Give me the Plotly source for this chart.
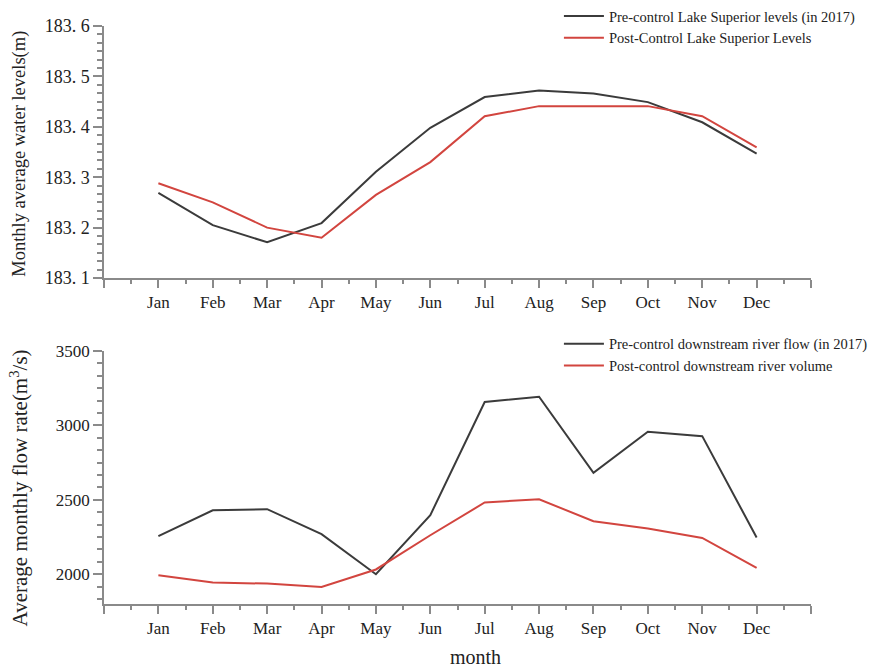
import plotly.graph_objects as go

# Monthly data
months = ["Jan", "Feb", "Mar", "Apr", "May", "Jun", "Jul", "Aug", "Sep", "Oct", "Nov", "Dec"]
month_pos = list(range(1, 13))

# Lake Superior water levels (m)
pre_level = [183.269, 183.205, 183.171, 183.209, 183.311, 183.398, 183.459, 183.472, 183.466, 183.449, 183.409, 183.347]
post_level = [183.288, 183.250, 183.200, 183.180, 183.265, 183.330, 183.421, 183.441, 183.441, 183.441, 183.421, 183.359]

# Downstream river flow (m^3/s)
pre_flow = [2256, 2430, 2437, 2269, 2000, 2397, 3157, 3193, 2681, 2957, 2928, 2247]
post_flow = [1993, 1944, 1937, 1915, 2032, 2262, 2482, 2504, 2356, 2307, 2244, 2042]

# Axis tick values
level_ticks = [183.1, 183.2, 183.3, 183.4, 183.5, 183.6]
flow_ticks = [2000, 2500, 3000, 3500]

BLACK = "#3b3b3b"
RED = "#d2453f"
AXIS = "#8a8a8a"
SERIF = "Liberation Serif, Times New Roman, serif"

fig = go.Figure()

fig.add_trace(go.Scatter(x=month_pos, y=pre_level, mode="lines",
                         name="Pre-control Lake Superior levels (in 2017)",
                         line=dict(color=BLACK, width=2), xaxis="x", yaxis="y", legend="legend"))
fig.add_trace(go.Scatter(x=month_pos, y=post_level, mode="lines",
                         name="Post-Control Lake Superior Levels",
                         line=dict(color=RED, width=2), xaxis="x", yaxis="y", legend="legend"))
fig.add_trace(go.Scatter(x=month_pos, y=pre_flow, mode="lines",
                         name="Pre-control downstream river flow (in 2017)",
                         line=dict(color=BLACK, width=2), xaxis="x2", yaxis="y2", legend="legend2"))
fig.add_trace(go.Scatter(x=month_pos, y=post_flow, mode="lines",
                         name="Post-control downstream river volume",
                         line=dict(color=RED, width=2), xaxis="x2", yaxis="y2", legend="legend2"))

xtickvals = list(range(0, 14))
xticktext = [""] + months + [""]
xminor = dict(tickvals=[i + 0.5 for i in range(13)], ticks="outside", ticklen=4,
              tickcolor=AXIS, tickwidth=1.5)

common_x = dict(range=[0, 13], tickvals=xtickvals, ticktext=xticktext,
                showline=True, linecolor=AXIS, linewidth=1.5,
                ticks="outside", ticklen=8, tickcolor=AXIS, tickwidth=1.5,
                showgrid=False, zeroline=False, minor=xminor,
                tickfont=dict(family=SERIF, size=17, color="#222"))

# Legends are placed in container coordinates so they never push the plot margins
legend_style = dict(xref="container", yref="container", xanchor="left", yanchor="top",
                    bgcolor="rgba(0,0,0,0)", borderwidth=0, tracegroupgap=0, itemwidth=40,
                    font=dict(family=SERIF, size=14.5, color="#222"))

fig.update_layout(
    width=890, height=669,
    margin=dict(l=104, r=79, t=26, b=65, autoexpand=False),
    paper_bgcolor="white", plot_bgcolor="white",
    font=dict(family=SERIF, color="#222"),
    xaxis=dict(domain=[0, 1], anchor="y", **common_x),
    xaxis2=dict(domain=[0, 1], anchor="y2", **common_x),
    yaxis=dict(domain=[0.564, 1], anchor="x", range=[183.1, 183.6],
               tickvals=level_ticks,
               ticktext=[f"{v:.1f}".replace(".", ". ") for v in level_ticks],
               showline=True, linecolor=AXIS, linewidth=1.5,
               ticks="outside", ticklen=9, tickcolor=AXIS, tickwidth=1.5,
               minor=dict(dtick=0.1 / 6, tick0=183.1, ticks="outside", ticklen=5,
                          tickcolor=AXIS, tickwidth=1.5),
               showgrid=False, zeroline=False,
               tickfont=dict(family=SERIF, size=18, color="#222")),
    yaxis2=dict(domain=[0, 0.4377], anchor="x2", range=[1800, 3500],
                tickvals=flow_ticks,
                showline=True, linecolor=AXIS, linewidth=1.5,
                ticks="outside", ticklen=9, tickcolor=AXIS, tickwidth=1.5,
                minor=dict(dtick=500 / 6, tick0=2000, ticks="outside", ticklen=5,
                           tickcolor=AXIS, tickwidth=1.5),
                showgrid=False, zeroline=False,
                tickfont=dict(family=SERIF, size=17, color="#222")),
    legend=dict(x=0.628, y=1.0, **legend_style),
    legend2=dict(x=0.628, y=0.51, **legend_style),
    showlegend=True,
)

fig.add_annotation(text="Monthly average water levels(m)", x=0, xref="paper",
                   xshift=-84, y=0.779, yref="paper", textangle=-90, showarrow=False,
                   xanchor="center", yanchor="middle",
                   font=dict(family=SERIF, size=18.5, color="#222"))
fig.add_annotation(text="Average monthly flow rate(m<sup>3</sup>/s)", x=0, xref="paper",
                   xshift=-85, y=0.2, yref="paper", textangle=-90, showarrow=False,
                   xanchor="center", yanchor="middle",
                   font=dict(family=SERIF, size=21, color="#222"))
fig.add_annotation(text="month", x=0.525, xref="paper", y=0, yref="paper",
                   yshift=-53, showarrow=False, xanchor="center", yanchor="middle",
                   font=dict(family=SERIF, size=20, color="#222"))

fig.write_html("out.html")
